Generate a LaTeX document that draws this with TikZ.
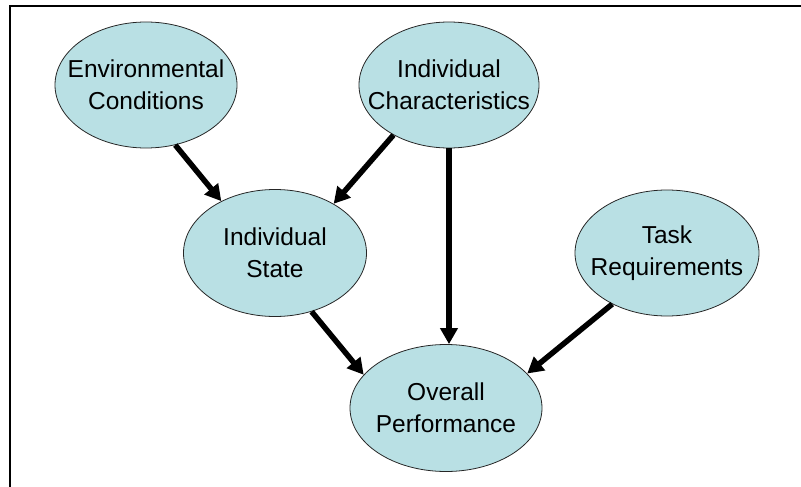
\documentclass[tikz,border=0pt]{standalone}
\usepackage{fontspec}
\setmainfont{Liberation Sans}
\usetikzlibrary{shapes.geometric,arrows.meta}
\definecolor{ovalfill}{RGB}{185,224,228}
\begin{document}
\begin{tikzpicture}[x=1pt, y=-1pt,
  oval/.style={ellipse, draw=black!85, line width=0.8pt, fill=ovalfill, inner xsep=-60pt, inner ysep=-30pt,
    align=center, font=\fontsize{24.5}{32}\selectfont},
  arr/.style={line width=5.5pt, -{Triangle[width=17pt,length=16pt]}}]
\useasboundingbox (0,0) rectangle (801,487);
\draw[line width=2pt] (801,6) -- (10,6) -- (10,487);
\node[oval, minimum width=182pt, minimum height=126pt] (env) at (146,85) {Environmental\\Conditions};
\node[oval, minimum width=180pt, minimum height=126pt] (char) at (449,85) {Individual\\Characteristics};
\node[oval, minimum width=183pt, minimum height=127pt] (state) at (275,253) {Individual\\State};
\node[oval, minimum width=184pt, minimum height=126pt] (task) at (667,253) {Task\\Requirements};
\node[oval, minimum width=192pt, minimum height=127pt] (over) at (446,408) {Overall\\Performance};
\draw[arr] (env.-64) -- (state.136);
\draw[arr] (char.222) -- (state.40);
\draw[arr] (char.south) -- (char.south |- over.north);
\draw[arr] (state.-58) -- (over.158);
\draw[arr] (task.223) -- (over.23);
\end{tikzpicture}
\end{document}
